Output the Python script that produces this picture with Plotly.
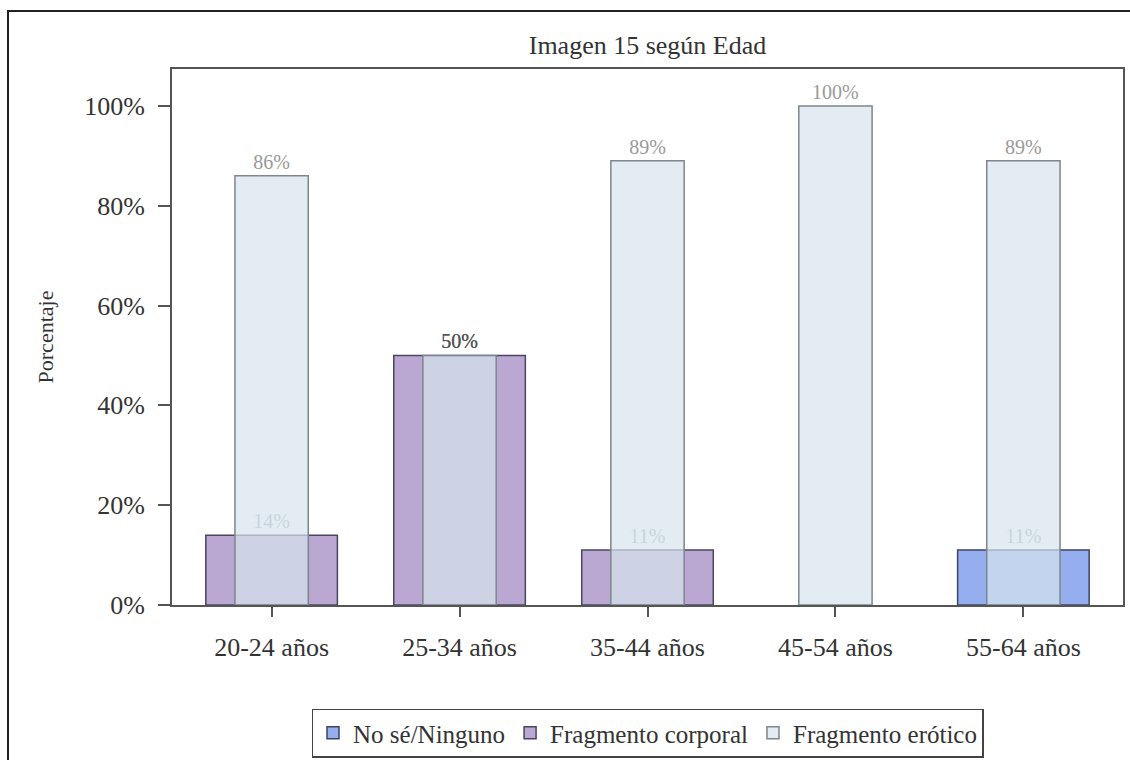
import plotly.graph_objects as go

categories = ["20-24 años", "25-34 años", "35-44 años", "45-54 años", "55-64 años"]
no_se = [0, 0, 0, 0, 11]
corporal = [14, 50, 11, 0, 0]
erotico = [86, 50, 89, 100, 89]
y_ticks = [0, 20, 40, 60, 80, 100]
y_tick_labels = [f"{v}%" for v in y_ticks]

FONT = "Liberation Serif, Times New Roman, serif"

def labels(vals):
    return [f"{v}%" if v > 0 else "" for v in vals]

def nz(vals):
    return [v if v > 0 else None for v in vals]

fig = go.Figure()
fig.add_trace(go.Bar(
    name="No sé/Ninguno", x=categories, y=nz(no_se), width=0.70,
    marker=dict(color="#94AEF0", line=dict(color="#3c4660", width=1.5)),
    text=labels(no_se), textposition="outside",
    textfont=dict(family=FONT, size=20, color="#a8b0b8"), cliponaxis=False,
))
fig.add_trace(go.Bar(
    name="Fragmento corporal", x=categories, y=nz(corporal), width=0.70,
    marker=dict(color="#BBA8D2", line=dict(color="#4a4560", width=1.5)),
    text=labels(corporal), textposition="outside",
    textfont=dict(family=FONT, size=20,
                  color=["#a8b0b8", "#555555", "#a8b0b8", "#a8b0b8", "#a8b0b8"]),
    cliponaxis=False,
))
fig.add_trace(go.Bar(
    name="Fragmento erótico", x=categories, y=nz(erotico), width=0.39,
    marker=dict(color="rgba(214,228,236,0.7)", line=dict(color="#7d868c", width=1.5)),
    text=labels(erotico), textposition="outside",
    textfont=dict(family=FONT, size=20,
                  color=["#9a9a9a", "#555555", "#9a9a9a", "#9a9a9a", "#9a9a9a"]),
    cliponaxis=False,
))

fig.update_layout(
    width=1130, height=760,
    barmode="overlay",
    paper_bgcolor="white", plot_bgcolor="white",
    margin=dict(l=172, r=7, t=69, b=155, autoexpand=False),
    font=dict(family=FONT, color="#333333"),
    title=dict(text="Imagen 15 según Edad", x=0.5, xref="paper", xanchor="center",
               y=1 - 45 / 760, yanchor="middle", font=dict(family=FONT, size=26, color="#333333")),
    showlegend=True,
    legend=dict(orientation="h", x=0.5, xanchor="center", y=-0.239, yanchor="middle",
                bordercolor="#444444", borderwidth=1.5, bgcolor="white",
                font=dict(family=FONT, size=25, color="#333333"),
                itemwidth=30, tracegroupgap=0),
    xaxis=dict(range=[-0.53, 4.53], showline=True, linecolor="#555555", linewidth=2,
               mirror=True, ticks="outside", ticklen=10, tickcolor="#555555", tickwidth=2,
               ticklabelstandoff=8,
               tickfont=dict(family=FONT, size=26, color="#333333"), showgrid=False,
               automargin=False),
    yaxis=dict(range=[0, 107.4], tickvals=y_ticks, ticktext=y_tick_labels,
               showline=True, linecolor="#555555", linewidth=2, mirror=True,
               ticks="outside", ticklen=12, tickcolor="#555555", tickwidth=2,
               ticklabelstandoff=8,
               tickfont=dict(family=FONT, size=26, color="#333333"), showgrid=False,
               zeroline=False, automargin=False,
               title=dict(text="Porcentaje", font=dict(family=FONT, size=22, color="#333333"),
                          standoff=24)),
    shapes=[dict(type="rect", xref="paper", yref="paper",
                 x0=(8 - 172) / 951, x1=(1140 - 172) / 951,
                 y0=(605 - 770) / 536, y1=(605 - 11) / 536,
                 line=dict(color="#222222", width=2), layer="below")],
)

fig.write_html("out.html", config={"displayModeBar": False},
               post_script="document.body.style.margin='0';document.body.style.overflow='hidden';")
